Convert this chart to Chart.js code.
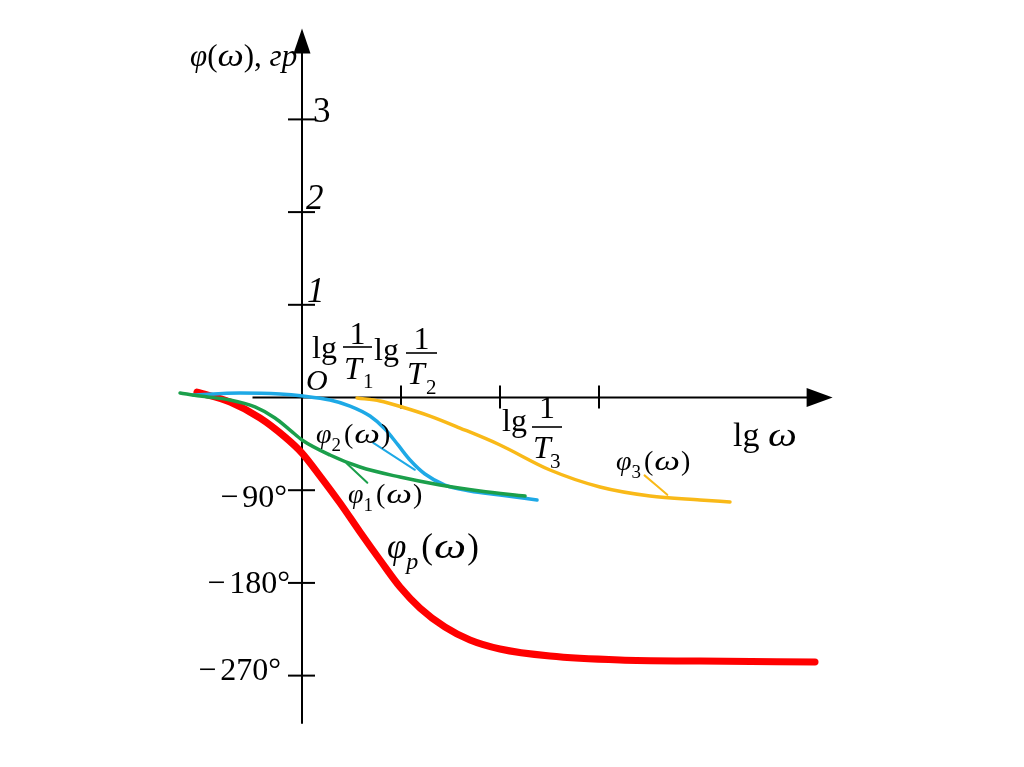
<!DOCTYPE html>
<html><head><meta charset="utf-8">
<script src="https://cdn.jsdelivr.net/npm/chart.js@4/dist/chart.umd.min.js"></script>
<style>html,body{margin:0;padding:0;background:#fff;overflow:hidden}</style>
</head><body>
<canvas id="c" width="1024" height="767"></canvas>
<script>
// ---- data (x: lg ω units, y: units of 90°) ----
const phiPX = [-1.061,-0.727,-0.424,-0.172,0.000,0.182,0.384,0.586,0.788,0.990,1.192,1.444,1.697,2.000,2.505,3.212,4.020,5.182];
const phiPY = [0.059,-0.049,-0.221,-0.426,-0.599,-0.847,-1.138,-1.451,-1.753,-2.044,-2.271,-2.476,-2.616,-2.713,-2.789,-2.832,-2.843,-2.854];
const phi1X = [-1.232,-1.030,-0.727,-0.475,-0.273,-0.121,0.000,0.283,0.586,0.990,1.394,1.798,2.253];
const phi1Y = [0.049,0.016,-0.027,-0.102,-0.221,-0.351,-0.458,-0.620,-0.750,-0.858,-0.944,-1.009,-1.063];
const phi2X = [-1.101,-0.626,-0.222,0.010,0.283,0.485,0.687,0.838,0.970,1.091,1.242,1.444,1.697,2.000,2.374];
const phi2Y = [0.027,0.049,0.038,0.016,-0.027,-0.092,-0.200,-0.340,-0.512,-0.674,-0.825,-0.944,-1.009,-1.052,-1.106];
const phi3X = [0.556,0.788,1.010,1.293,1.596,2.000,2.505,3.010,3.515,4.020,4.323];
const phi3Y = [-0.005,-0.038,-0.102,-0.200,-0.329,-0.512,-0.782,-0.965,-1.062,-1.105,-1.127];
// leader lines from labels to curves
const lead2X = [0.72,1.14], lead2Y = [-0.49,-0.78];
const lead1X = [0.45,0.66], lead1Y = [-0.71,-0.92];
const lead3X = [3.46,3.69], lead3Y = [-0.84,-1.05];
// ticks
const yTickValues = [3,2,1,-1,-2,-3];
const yTickLabels = ['3','2','1','\u221290\u00b0','\u2212180\u00b0','\u2212270\u00b0'];
const xTickValues = [1,2,3];

const pts = (xs,ys)=>xs.map((x,i)=>({x:x,y:ys[i]}));
const F = '"Liberation Serif","Times New Roman",serif';

function drawRich(ctx,x,y,parts,align){
  let w=0;
  const ws=parts.map(p=>{ctx.font=(p.i?'italic ':'')+p.s+'px '+F;const v=ctx.measureText(p.t).width*(p.sx||1)+(p.g||0);w+=v;return v;});
  let cx = align==='right'? x-w : x;
  parts.forEach((p,k)=>{
    ctx.font=(p.i?'italic ':'')+p.s+'px '+F;
    ctx.save();ctx.translate(cx+(p.pre||0),y+(p.dy||0));ctx.scale(p.sx||1,1);ctx.fillText(p.t,0,0);ctx.restore();
    cx+=ws[k];
  });
}
function phiLabel(ctx,x,y,sub,s,subItalic){
  drawRich(ctx,x,y,[
    {t:'\u03c6',s:s,i:true},
    {t:sub,s:Math.round(s*0.68),i:!!subItalic,dy:Math.round(s*0.3),g:3},
    {t:'(',s:s,g:1},{t:'\u03c9',s:s,i:true,sx:1.3,g:1},{t:')',s:s}
  ]);
}
function frac(ctx,x1,x2,barY,num,numBase,tx,tBase,sub,subX,subBase,s){
  ctx.fillRect(x1,barY-0.8,x2-x1,1.6);
  ctx.font=s+'px '+F;ctx.textAlign='center';ctx.fillText(num,(x1+x2)/2,numBase);ctx.textAlign='left';
  ctx.font='italic '+s+'px '+F;ctx.fillText('T',tx,tBase);
  ctx.font=Math.round(s*0.66)+'px '+F;ctx.fillText(sub,subX,subBase);
}

const axesPlugin={
  id:'axesPlugin',
  beforeDatasetsDraw(chart){
    const ctx=chart.ctx, xs=chart.scales.x, ys=chart.scales.y;
    const x0=xs.getPixelForValue(0), y0=ys.getPixelForValue(0);
    ctx.save();ctx.strokeStyle='#000';ctx.fillStyle='#000';ctx.lineWidth=2;
    // y axis
    const yTop=ys.getPixelForValue(3.98), yBot=ys.getPixelForValue(-3.52);
    ctx.beginPath();ctx.moveTo(x0,yBot);ctx.lineTo(x0,yTop+20);ctx.stroke();
    ctx.beginPath();ctx.moveTo(x0,yTop);ctx.lineTo(x0-8.5,yTop+25);ctx.lineTo(x0+8.5,yTop+25);ctx.closePath();ctx.fill();
    // x axis
    const xL=xs.getPixelForValue(-0.5), xR=xs.getPixelForValue(5.36);
    ctx.beginPath();ctx.moveTo(xL,y0);ctx.lineTo(xR-20,y0);ctx.stroke();
    ctx.beginPath();ctx.moveTo(xR,y0);ctx.lineTo(xR-26,y0-9.5);ctx.lineTo(xR-26,y0+9.5);ctx.closePath();ctx.fill();
    // ticks
    yTickValues.forEach(v=>{const p=ys.getPixelForValue(v);ctx.beginPath();ctx.moveTo(x0-14,p);ctx.lineTo(x0+13,p);ctx.stroke();});
    xTickValues.forEach(v=>{const p=xs.getPixelForValue(v);ctx.beginPath();ctx.moveTo(p,y0-12);ctx.lineTo(p,y0+11);ctx.stroke();});
    ctx.restore();
  },
  afterDatasetsDraw(chart){
    const ctx=chart.ctx, xs=chart.scales.x, ys=chart.scales.y;
    const x0=xs.getPixelForValue(0);
    ctx.save();ctx.fillStyle='#000';ctx.textBaseline='alphabetic';ctx.textAlign='left';
    // y tick labels
    const yl=[{x:x0+11,dy:3,i:false},{x:x0+4,dy:-3,i:true},{x:x0+5,dy:-3,i:true}];
    for(let k=0;k<3;k++){
      const p=ys.getPixelForValue(yTickValues[k]);
      ctx.font=(yl[k].i?'italic ':'')+'35px '+F;ctx.fillText(yTickLabels[k],yl[k].x,p+yl[k].dy);
    }
    const dl=[{r:287,dy:17},{r:290,dy:10},{r:281,dy:4}];
    for(let k=3;k<6;k++){
      const p=ys.getPixelForValue(yTickValues[k]);const d=dl[k-3];
      drawRich(ctx,d.r,p+d.dy,[{t:'\u2212',s:32,g:4},{t:yTickLabels[k].slice(1),s:32}],'right');
    }
    // origin
    ctx.font='italic 30px '+F;ctx.fillText('O',x0+4,390);
    // axis title
    drawRich(ctx,190,66,[{t:'\u03c6',s:31,i:true},{t:'(',s:31},{t:'\u03c9',s:31,i:true,sx:1.2},{t:')',s:31},{t:', ',s:31},{t:'\u0433\u0440',s:31,i:true}]);
    // x labels
    ctx.font='32px '+F;
    ctx.fillText('lg',312,358);
    frac(ctx,343,372,347,'1',344,344,379,'1',363,388,32);
    ctx.font='32px '+F;ctx.fillText('lg',374,360);
    frac(ctx,406,437,353,'1',349,407,384,'2',426,394,32);
    ctx.font='32px '+F;ctx.fillText('lg',502,431);
    frac(ctx,532,562,427,'1',418,533,458,'3',550,468,32);
    drawRich(ctx,733,446,[{t:'lg ',s:34},{t:'\u03c9',s:34,i:true,sx:1.2}]);
    // curve labels
    phiLabel(ctx,316,443,'2',28);
    phiLabel(ctx,348,503,'1',28);
    phiLabel(ctx,616,470,'3',28);
    phiLabel(ctx,387,558,'p',35,true);
    ctx.restore();
  }
};

const line=(data,color,w)=>({data:data,borderColor:color,borderWidth:w,showLine:true,pointRadius:0,
  cubicInterpolationMode:'monotone',borderCapStyle:'round',borderJoinStyle:'round',fill:false});

new Chart(document.getElementById('c'),{
  type:'scatter',
  data:{datasets:[
    line(pts(phi3X,phi3Y),'#f9b918',3.5),
    line(pts(phi1X,phi1Y),'#1b9f4b',3.5),
    line(pts(phi2X,phi2Y),'#1ea9e6',3.5),
    line(pts(phiPX,phiPY),'#ff0000',7),
    line(pts(lead2X,lead2Y),'#1ea9e6',2),
    line(pts(lead1X,lead1Y),'#1b9f4b',2),
    line(pts(lead3X,lead3Y),'#f9b918',2)
  ]},
  options:{
    responsive:false,animation:false,devicePixelRatio:1,
    layout:{padding:{left:153.5,right:177.5,top:26.7,bottom:40.4}},
    plugins:{legend:{display:false},tooltip:{enabled:false},title:{display:false}},
    scales:{
      x:{type:'linear',min:-1.5,max:5.5,display:false},
      y:{type:'linear',min:-3.55,max:4.0,display:false}
    }
  },
  plugins:[axesPlugin]
});
</script>
</body></html>
